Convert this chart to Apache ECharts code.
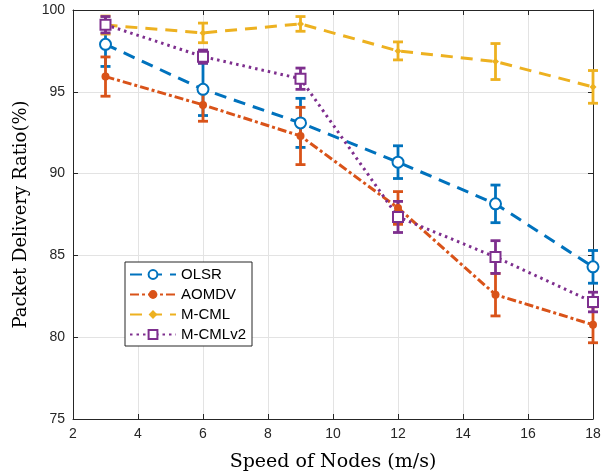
<!DOCTYPE html>
<html><head><meta charset="utf-8">
<script src="https://cdn.jsdelivr.net/npm/echarts@6/dist/echarts.min.js"></script>
<style>html,body{margin:0;padding:0;background:#fff}#c{width:608px;height:472px}</style>
</head><body><div id="c"></div>
<script>
var speeds = [3, 6, 9, 12, 15, 18];
var olsr = [97.9, 95.15, 93.1, 90.7, 88.15, 84.3];
var olsrErr = [1.35, 1.6, 1.5, 1.0, 1.15, 1.0];
var aomdv = [95.93, 94.2, 92.3, 87.9, 82.6, 80.76];
var aomdvErr = [1.2, 1.0, 1.75, 1.0, 1.3, 1.1];
var mcml = [99.08, 98.6, 99.15, 97.5, 96.85, 95.3];
var mcmlErr = [0.55, 0.6, 0.45, 0.55, 1.1, 1.0];
var mcml2 = [99.1, 97.15, 95.8, 87.35, 84.9, 82.15];
var mcml2Err = [0.5, 0.4, 0.65, 0.95, 1.0, 0.6];
var names = ['OLSR', 'AOMDV', 'M-CML', 'M-CMLv2'];
var xTicks = [2, 4, 6, 8, 10, 12, 14, 16, 18];
var yTicks = [75, 80, 85, 90, 95, 100];

var colors = ['#0072BD', '#D95319', '#EDB120', '#7E2F8E'];
var vals = [olsr, aomdv, mcml, mcml2];
var errs = [olsrErr, aomdvErr, mcmlErr, mcml2Err];
var dashes = [[12, 8], [9, 3, 3, 3], [12, 8], [2.5, 4]];
var symbols = ['emptyCircle', 'circle', 'diamond', 'emptyRect'];
var symSizes = [11, 8, 7, 10];
var borderW = [2.5, 0, 0, 3];

var series = [];
vals.forEach(function (v, i) {
  var errData = speeds.map(function (s, k) { return [s, v[k] - errs[i][k], v[k] + errs[i][k]]; });
  series.push({
    type: 'custom', name: names[i] + '_err', z: 2, silent: true,
    data: errData,
    renderItem: function (params, api) {
      var lo = api.coord([api.value(0), api.value(1)]);
      var hi = api.coord([api.value(0), api.value(2)]);
      var st = { stroke: colors[i], lineWidth: 2.8 };
      var w = 5;
      return { type: 'group', children: [
        { type: 'line', shape: { x1: lo[0], y1: lo[1], x2: hi[0], y2: hi[1] }, style: st },
        { type: 'line', shape: { x1: lo[0] - w, y1: lo[1], x2: lo[0] + w, y2: lo[1] }, style: st },
        { type: 'line', shape: { x1: hi[0] - w, y1: hi[1], x2: hi[0] + w, y2: hi[1] }, style: st }
      ]};
    }
  });
  series.push({
    type: 'line', name: names[i], z: 3,
    data: speeds.map(function (s, k) { return [s, v[k]]; }),
    symbol: symbols[i], symbolSize: symSizes[i], showSymbol: true,
    lineStyle: { color: colors[i], width: 3, type: dashes[i] },
    itemStyle: { color: colors[i], borderColor: colors[i], borderWidth: borderW[i] },
    emphasis: { disabled: true }, animation: false
  });
});

var chart = echarts.init(document.getElementById('c'));
var axisLineStyle = { lineStyle: { color: '#262626', width: 1 } };
chart.setOption({
  animation: false,
  backgroundColor: '#fff',
  grid: { left: 73, right: 15, top: 10, bottom: 53, containLabel: false, outerBoundsMode: 'none' },
  legend: {
    data: names, orient: 'vertical', left: 125, top: 262,
    backgroundColor: '#fff', borderColor: '#262626', borderWidth: 1,
    padding: [5, 6, 4, 4], itemGap: 5, itemWidth: 46, itemHeight: 11,
    textStyle: { fontFamily: 'Liberation Sans', fontSize: 15, color: '#000' }
  },
  xAxis: [{
    type: 'value', min: 2, max: 18, interval: 2,
    name: 'Speed of Nodes (m/s)', nameLocation: 'middle', nameGap: 34,
    nameTextStyle: { fontFamily: 'DejaVu Serif', fontSize: 19, color: '#000' },
    axisLine: axisLineStyle, axisTick: { inside: true, length: 5, lineStyle: { color: '#262626' } },
    axisLabel: { fontFamily: 'Liberation Sans', fontSize: 14, color: '#262626', margin: 8 },
    splitLine: { show: true, lineStyle: { color: '#e3e3e3', width: 1 } }
  }, {
    type: 'value', min: 2, max: 18, interval: 2, position: 'top',
    axisLine: axisLineStyle, axisTick: { inside: true, length: 5, lineStyle: { color: '#262626' } },
    axisLabel: { show: false }, splitLine: { show: false }
  }],
  yAxis: [{
    type: 'value', min: 75, max: 100, interval: 5,
    name: 'Packet Delivery Ratio(%)', nameLocation: 'middle', nameGap: 43,
    nameTextStyle: { fontFamily: 'DejaVu Serif', fontSize: 18, color: '#000' },
    axisLine: { show: true, lineStyle: { color: '#262626', width: 1 } },
    axisTick: { show: true, inside: true, length: 5, lineStyle: { color: '#262626' } },
    axisLabel: { fontFamily: 'Liberation Sans', fontSize: 14, color: '#262626', margin: 8 },
    splitLine: { show: true, lineStyle: { color: '#e3e3e3', width: 1 } }
  }, {
    type: 'value', min: 75, max: 100, interval: 5, position: 'right',
    axisLine: { show: true, lineStyle: { color: '#262626', width: 1 } },
    axisTick: { show: true, inside: true, length: 5, lineStyle: { color: '#262626' } },
    axisLabel: { show: false }, splitLine: { show: false }
  }],
  series: series
});
</script></body></html>
